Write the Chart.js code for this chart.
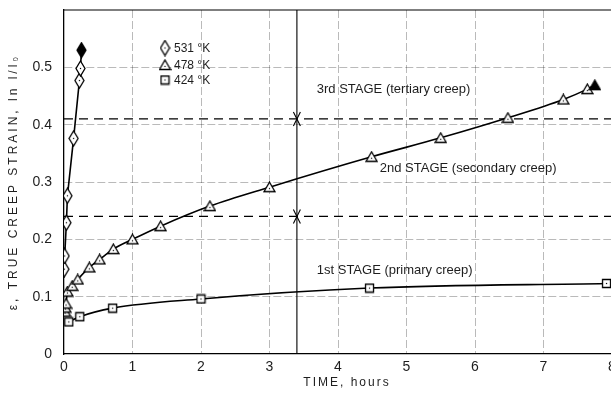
<!DOCTYPE html>
<html>
<head>
<meta charset="utf-8">
<script src="https://cdn.jsdelivr.net/npm/chart.js@4.4.0/dist/chart.umd.min.js"></script>
<style>
  html, body { margin: 0; padding: 0; background: #fff; overflow: hidden; width: 611px; height: 393px; }
  #wrap { width: 620px; height: 393px; }
</style>
</head>
<body>
<div id="wrap"><canvas id="c" width="620" height="393"></canvas></div>
<script>
// True creep strain against time for three test temperatures
const timeMax = 8;
const strainMax = 0.6;

// 531 K (ruptured at the last point)
const t531 = [0.005, 0.01, 0.035, 0.05, 0.14, 0.225, 0.24, 0.255];
const e531 = [0.148, 0.171, 0.229, 0.276, 0.376, 0.477, 0.498, 0.530];

// 478 K (ruptured at the last point)
const t478 = [0.015, 0.02, 0.03, 0.05, 0.12, 0.20, 0.37, 0.52, 0.72, 1.00, 1.41, 2.13, 3.00, 4.49, 5.50, 6.48, 7.29, 7.64, 7.75];
const e478 = [0.074, 0.081, 0.088, 0.109, 0.119, 0.130, 0.151, 0.165, 0.183, 0.200, 0.223, 0.258, 0.291, 0.344, 0.377, 0.412, 0.444, 0.462, 0.469];

// 424 K
const t424 = [0.07, 0.23, 0.71, 2.00, 4.46, 7.92];
const e424 = [0.056, 0.065, 0.080, 0.096, 0.115, 0.123];

const seriesNames = ['531 °K', '478 °K', '424 °K'];
const ruptured = [true, true, false];

// Creep stage boundaries (strain) and the time at which they are marked
const stageBounds = [0.24, 0.41];
const stageTime = 3.4;
const stageLabels = ['1st STAGE (primary creep)', '2nd STAGE (secondary creep)', '3rd STAGE (tertiary creep)'];
const stageLabelX = [3.69, 4.61, 3.69];
const stageLabelY = [0.1465, 0.323, 0.462];

const FONT = '"Liberation Sans", "DejaVu Sans", sans-serif';
const INK = '#1e1e1e';

// ---- marker glyphs drawn on small canvases ----
function makeMarker(kind, filled) {
  const c = document.createElement('canvas');
  let w, h;
  if (kind === 'diamond') { w = 11; h = 17; }
  else if (kind === 'triangle') { w = 13; h = 12; }
  else { w = 11; h = 11; }
  c.width = w; c.height = h;
  const g = c.getContext('2d');
  g.lineWidth = 1.3;
  g.strokeStyle = '#000';
  g.fillStyle = filled ? '#000' : '#fff';
  g.beginPath();
  if (kind === 'diamond') {
    g.moveTo(w / 2, 1); g.lineTo(w - 1, h / 2); g.lineTo(w / 2, h - 1); g.lineTo(1, h / 2);
  } else if (kind === 'triangle') {
    g.moveTo(w / 2, 1); g.lineTo(w - 1, h - 1.5); g.lineTo(1, h - 1.5);
  } else {
    g.rect(1.5, 1.5, w - 3, h - 3);
  }
  g.closePath();
  g.fill();
  g.stroke();
  if (!filled) {
    g.fillStyle = '#000';
    const cy = kind === 'triangle' ? h * 0.62 : h / 2;
    g.fillRect(w / 2 - 0.6, cy - 0.6, 1.2, 1.2);
  }
  return c;
}
const markers = {
  diamond: [makeMarker('diamond', false), makeMarker('diamond', true)],
  triangle: [makeMarker('triangle', false), makeMarker('triangle', true)],
  square: [makeMarker('square', false), makeMarker('square', true)]
};
const kinds = ['diamond', 'triangle', 'square'];

function pts(xs, ys) { return xs.map((x, i) => ({ x: x, y: ys[i] })); }

function seriesDataset(idx, xs, ys, smooth) {
  const kind = kinds[idx];
  return {
    label: seriesNames[idx],
    data: pts(xs, ys),
    borderColor: '#000',
    borderWidth: 1.6,
    fill: false,
    tension: 0,
    cubicInterpolationMode: smooth ? 'monotone' : 'default',
    pointStyle: (ctx) => markers[kind][(ruptured[idx] && ctx.dataIndex === xs.length - 1) ? 1 : 0],
    pointRadius: 6,
    order: 1
  };
}

const refLine = (data, dash) => ({
  data: data,
  borderColor: '#000',
  borderWidth: dash ? 1.3 : 1.1,
  borderDash: dash ? [9, 6] : [],
  pointRadius: 0,
  fill: false,
  tension: 0,
  order: 5
});

const datasets = [
  seriesDataset(0, t531, e531, false),
  seriesDataset(1, t478, e478, true),
  seriesDataset(2, t424, e424, true),
  ...stageBounds.map(v => refLine([{ x: 0, y: v }, { x: timeMax, y: v }], true)),
  refLine([{ x: stageTime, y: 0 }, { x: stageTime, y: strainMax }], false)
];

// ---- decorations: frame, stage arrows, stage labels, legend, axis titles ----
const decor = {
  id: 'decor',
  afterDatasetsDraw(chart) {
    const { ctx, chartArea: a, scales: { x, y } } = chart;
    ctx.save();
    // frame (top and right)
    ctx.strokeStyle = '#000';
    ctx.lineWidth = 1.2;
    ctx.beginPath();
    ctx.moveTo(a.left, a.top); ctx.lineTo(a.right, a.top); ctx.lineTo(a.right, a.bottom);
    ctx.stroke();

    // arrowheads meeting each stage boundary
    const px = x.getPixelForValue(stageTime);
    ctx.lineWidth = 1.1;
    stageBounds.forEach(v => {
      const py = y.getPixelForValue(v);
      ctx.beginPath();
      ctx.moveTo(px - 3.5, py - 7); ctx.lineTo(px, py); ctx.lineTo(px + 3.5, py - 7);
      ctx.moveTo(px - 3.5, py + 7); ctx.lineTo(px, py); ctx.lineTo(px + 3.5, py + 7);
      ctx.stroke();
    });

    // stage labels
    ctx.fillStyle = INK;
    ctx.font = '13px ' + FONT;
    ctx.textAlign = 'left';
    ctx.textBaseline = 'middle';
    stageLabels.forEach((s, i) => {
      ctx.fillText(s, x.getPixelForValue(stageLabelX[i]), y.getPixelForValue(stageLabelY[i]));
    });

    // legend
    ctx.font = '12px ' + FONT;
    const lx = 165, ly = [48, 65, 80];
    seriesNames.forEach((s, i) => {
      const m = markers[kinds[i]][0];
      ctx.drawImage(m, lx - m.width / 2, ly[i] - m.height / 2);
      ctx.fillText(s, 174, ly[i] + 0.5);
    });

    // axis titles
    ctx.font = '12px ' + FONT;
    ctx.textAlign = 'center';
    ctx.letterSpacing = '2px';
    ctx.fillText('TIME, hours', 347, 383);
    ctx.translate(14, 182);
    ctx.rotate(-Math.PI / 2);
    ctx.letterSpacing = '3px';
    ctx.fillText('\u03B5, TRUE CREEP STRAIN, ln l/l\u2080', 0, 0);
    ctx.restore();
  }
};

const gridColor = (edgeA, edgeB) => (ctx) => {
  const v = ctx.tick ? ctx.tick.value : null;
  if (v === null || Math.abs(v - edgeA) < 1e-9 || Math.abs(v - edgeB) < 1e-9) return 'rgba(0,0,0,0)';
  return 'rgba(0,0,0,0.3)';
};

const chart = new Chart(document.getElementById('c'), {
  type: 'line',
  data: { datasets: datasets },
  options: {
    responsive: false,
    animation: false,
    devicePixelRatio: 1,
    layout: { padding: { top: 10, right: 8, bottom: 0, left: 0 } },
    plugins: { legend: { display: false }, tooltip: { enabled: false } },
    scales: {
      x: {
        type: 'linear',
        min: 0, max: timeMax,
        afterFit: (s) => { s.height = 39; s.paddingLeft = 0; s.paddingRight = 0; },
        ticks: { stepSize: 1, padding: 5, color: INK, font: { family: FONT, size: 14 }, maxRotation: 0 },
        grid: { drawTicks: false, color: gridColor(0, timeMax), lineWidth: 0.9 },
        border: { display: true, color: '#000', width: 1.3, dash: [8, 3] }
      },
      y: {
        type: 'linear',
        min: 0, max: strainMax,
        afterFit: (s) => { s.width = 64; s.paddingTop = 0; s.paddingBottom = 0; },
        ticks: {
          stepSize: 0.1, padding: 12, color: INK, font: { family: FONT, size: 14 },
          callback: (v) => Math.abs(v - strainMax) < 1e-9 ? '' : (v === 0 ? '0' : v.toFixed(1))
        },
        grid: { drawTicks: false, color: gridColor(0, strainMax), lineWidth: 0.9 },
        border: { display: true, color: '#000', width: 1.3, dash: [8, 3] }
      }
    }
  },
  plugins: [decor]
});
</script>
</body>
</html>
